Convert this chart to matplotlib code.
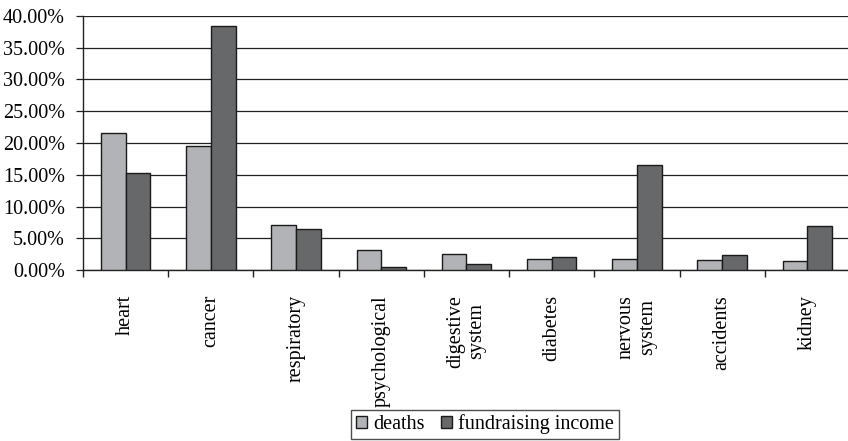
import matplotlib
matplotlib.use("Agg")
import matplotlib.pyplot as plt
import numpy as np
from matplotlib.ticker import FuncFormatter, MultipleLocator

categories = ["heart", "cancer", "respiratory", "psychological", "digestive\nsystem",
              "diabetes", "nervous\nsystem", "accidents", "kidney"]
deaths = [21.6, 19.6, 7.1, 3.15, 2.5, 1.8, 1.8, 1.6, 1.4]
fundraising = [15.2, 38.5, 6.5, 0.5, 0.95, 2.1, 16.6, 2.3, 6.9]
series_labels = ["deaths", "fundraising income"]

plt.rcParams['font.family'] = ['Liberation Serif', 'DejaVu Serif']

fig = plt.figure(figsize=(8.48, 4.41), dpi=100)
ax = fig.add_axes([83/848, 1-270/441, 767/848, 254/441])

x = np.arange(len(categories))
w = 0.29
b1 = ax.bar(x - w/2, deaths, w, color="#b2b3b6", edgecolor="#1a1a1a", linewidth=1.0,
            label=series_labels[0], zorder=3)
b2 = ax.bar(x + w/2, fundraising, w, color="#67686a", edgecolor="#1a1a1a", linewidth=1.0,
            label=series_labels[1], zorder=3)

ax.set_xlim(-0.5, len(categories) - 0.5)
ax.set_ylim(0, 40)
ax.yaxis.set_major_locator(MultipleLocator(5))
ax.yaxis.set_major_formatter(FuncFormatter(lambda v, p: f"{v:.2f}%"))
ax.yaxis.grid(True, color="#222222", linewidth=0.9, zorder=0)
ax.set_axisbelow(True)

# x ticks at category boundaries, labels at centers
ax.set_xticks(np.arange(len(categories) + 1) - 0.5)
ax.set_xticklabels([])
ax.set_xticks(x, minor=True)
ax.set_xticklabels(categories, minor=True, rotation=90, fontsize=14.5,
                   ha="center", va="top", multialignment="center", linespacing=1.15)
ax.tick_params(axis="x", which="minor", length=0, pad=18)
ax.tick_params(axis="x", which="major", direction="out", length=5, width=1, color="#222222")
ax.tick_params(axis="y", direction="out", length=5, width=0.9, color="#222222",
               labelsize=14.5, pad=8)

for s in ["top", "right"]:
    ax.spines[s].set_visible(False)
ax.spines["left"].set_color("#222222")
ax.spines["bottom"].set_color("#222222")
ax.spines["left"].set_linewidth(1.0)
ax.spines["bottom"].set_linewidth(1.0)

leg = fig.legend(handles=[b1, b2], labels=series_labels, loc="center",
                 bbox_to_anchor=(485/848, 1-424.5/441), ncol=2, fontsize=14.5,
                 frameon=True, fancybox=False, edgecolor="#222222",
                 handlelength=0.55, handleheight=0.55, handletextpad=0.3,
                 columnspacing=0.8, borderpad=0.25, borderaxespad=0)
leg.get_frame().set_linewidth(1.0)

fig.savefig("out.png", dpi=100)
